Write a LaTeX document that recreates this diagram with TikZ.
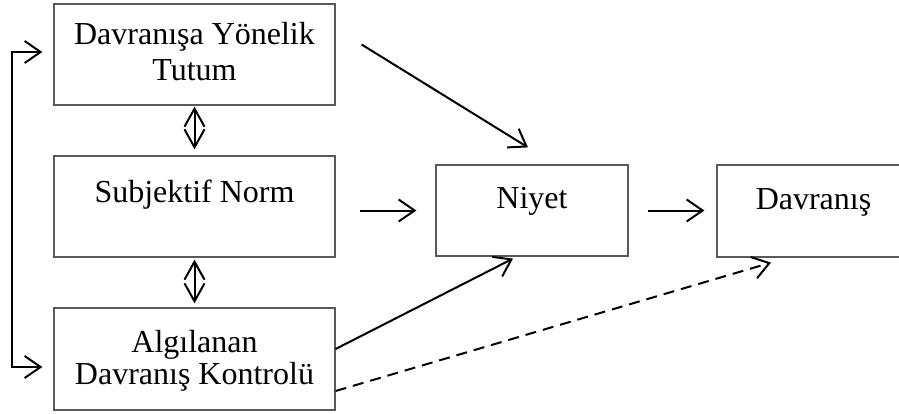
\documentclass[tikz,border=0pt]{standalone}
\usepackage{fontspec}
\setmainfont{Liberation Serif}
\usetikzlibrary{arrows.meta}

\tikzset{
  box/.style={draw=black!65, line width=1.2pt, rectangle, inner sep=0pt, fill=white},
  arr/.style={line width=2pt, -{Straight Barb[length=16pt,width=22pt]}},
  arrboth/.style={line width=2pt, {Straight Barb[length=16pt,width=22pt]}-{Straight Barb[length=16pt,width=22pt]}},
  dbl/.style={line width=2pt, {Straight Barb[length=18pt,width=20pt]}-{Straight Barb[length=18pt,width=20pt]}},
  dashedarr/.style={arr, dash pattern=on 11pt off 7pt},
}
\newcommand{\boxtext}[3]{\parbox[t]{#1}{\centering\fontsize{32}{#2}\selectfont #3}}

\begin{document}
\begin{tikzpicture}[x=1pt,y=-1pt]
  \useasboundingbox (0,0) rectangle (899,414);

  % left column
  \node[box, text height=41pt, text depth=60pt, anchor=base] (att) at (194.5,45)
    {\boxtext{281pt}{36pt}{Davranışa Yönelik\\Tutum}};
  \node[box, text height=47pt, text depth=54pt, anchor=base] (sn) at (194.5,203)
    {\boxtext{281pt}{36pt}{Subjektif Norm}};
  \node[box, text height=44pt, text depth=58pt, anchor=base] (abc) at (194.5,352)
    {\boxtext{281pt}{32pt}{Algılanan\\Davranış Kontrolü}};

  % intention and behaviour
  \node[box, text height=43pt, text depth=48pt, anchor=base] (niy) at (532,208)
    {\boxtext{192pt}{36pt}{Niyet}};
  \node[box, text height=45pt, text depth=47pt, anchor=base] (dav) at (813.5,210)
    {\boxtext{193pt}{36pt}{Davranış}};

  % feedback loop on the left
  \coordinate (fbtop) at (12,52);
  \coordinate (fbbot) at (12,367);
  \draw[arrboth] ([xshift=-11pt,yshift=-8pt]abc.west) -- (fbbot) -- (fbtop)
    -- ([xshift=-11pt,yshift=2.5pt]att.west);

  % correlations between the predictors
  \draw[dbl] ([yshift=-1pt]att.south) -- ([yshift=6pt]sn.north);
  \draw[dbl] ([yshift=-2pt]sn.south) -- ([yshift=4pt]abc.north);

  % paths to intention and behaviour
  \draw[arr] ([xshift=26pt,yshift=10pt]att.east) -- ([xshift=-4pt,yshift=17pt]niy.north);
  \draw[arr] ([xshift=24pt]sn.east |- niy.west) -- ([xshift=-19pt]niy.west);
  \draw[arr] ([yshift=10pt]abc.east) -- ([xshift=-19pt,yshift=-2pt]niy.south);
  \draw[arr] ([xshift=19pt]niy.east) -- ([xshift=-12pt]dav.west |- niy.east);
  \draw[dashedarr] ([yshift=-32pt]abc.east) -- ([xshift=-42.5pt,yshift=-5pt]dav.south);
\end{tikzpicture}
\end{document}
